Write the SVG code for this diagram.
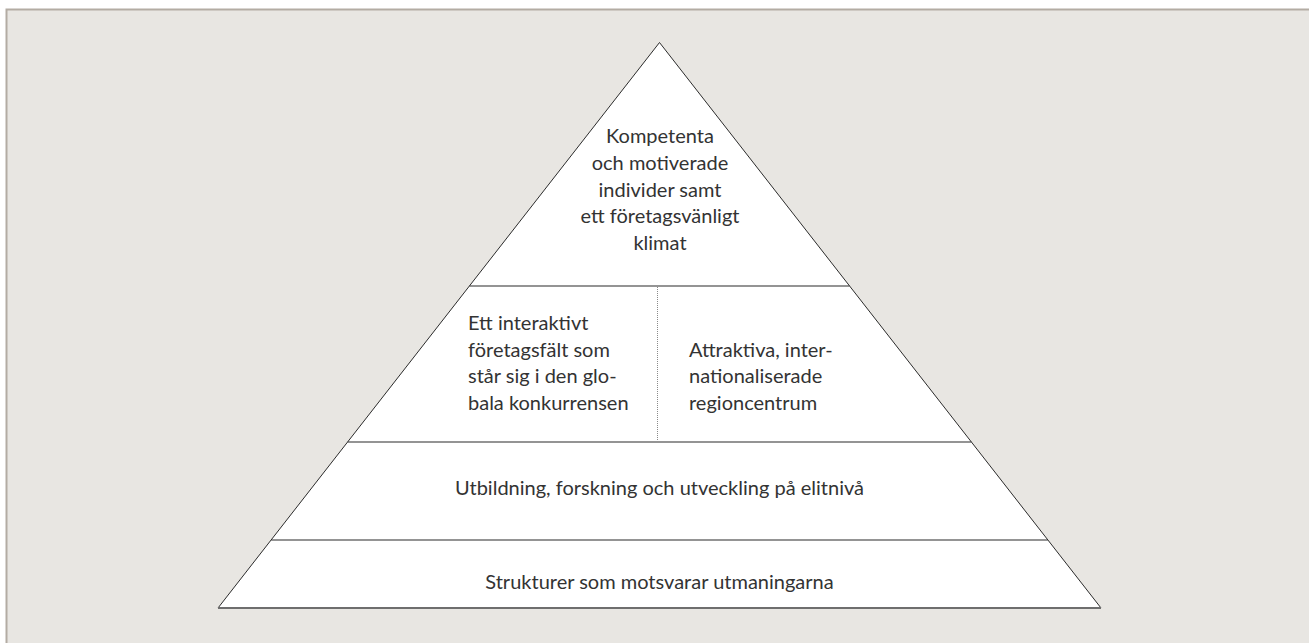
<svg xmlns="http://www.w3.org/2000/svg" width="1309" height="643" viewBox="0 0 1309 643">
<style>
.bg{fill:#e8e6e2}
.frame{stroke:#b3aca3;stroke-width:2;fill:none}
.tier{fill:#ffffff;stroke:#2b2b2b;stroke-width:1}
.div{stroke:#2b2b2b;stroke-width:1.2;fill:none}
.dot{stroke:#8a8a8a;stroke-width:1;stroke-dasharray:1 1;fill:none}
.t{font-family:Lato,"Open Sans","Liberation Sans",sans-serif;font-size:20px;fill:#333333}
.c{text-anchor:middle}
</style>
<rect x="0" y="0" width="1309" height="643" fill="#ffffff"/>
<rect class="bg" x="6" y="9.5" width="1303" height="633.5"/>
<path class="frame" d="M6.5 643 V9.5 H1309"/>
<g id="pyramid">
<polygon class="tier" points="659.5,42.5 1101,608 218,608"/>
<line x1="218" y1="608" x2="1101" y2="608" stroke="#6e6e6e" stroke-width="2"/>
</g>
<g id="connectors">
<line class="div" x1="469.5" y1="286" x2="849.5" y2="286"/>
<line class="div" x1="347.7" y1="442" x2="971.3" y2="442"/>
<line class="div" x1="271.2" y1="540" x2="1047.8" y2="540"/>
<line class="dot" x1="657.5" y1="287" x2="657.5" y2="441"/>
</g>
<g id="node-top">
<text class="t c" x="660" y="143">Kompetenta</text>
<text class="t c" x="660" y="170">och motiverade</text>
<text class="t c" x="660" y="196.5">individer samt</text>
<text class="t c" x="660" y="223">ett företagsvänligt</text>
<text class="t c" x="660" y="250">klimat</text>
</g>
<g id="node-left">
<text class="t" x="468" y="330">Ett interaktivt</text>
<text class="t" x="468" y="356.7">företagsfält som</text>
<text class="t" x="468" y="383.3">står sig i den glo-</text>
<text class="t" x="468" y="410">bala konkurrensen</text>
</g>
<g id="node-right">
<text class="t" x="689" y="356.7">Attraktiva, inter-</text>
<text class="t" x="689" y="383.3">nationaliserade</text>
<text class="t" x="689" y="410">regioncentrum</text>
</g>
<g id="node-third">
<text class="t c" x="659.5" y="495">Utbildning, forskning och utveckling på elitnivå</text>
</g>
<g id="node-base">
<text class="t c" x="659.5" y="588.5">Strukturer som motsvarar utmaningarna</text>
</g>
</svg>
